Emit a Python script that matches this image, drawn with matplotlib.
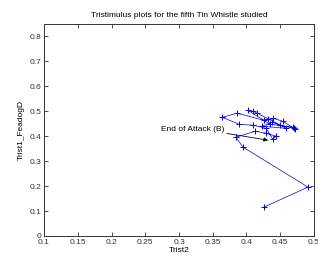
import matplotlib
matplotlib.use("Agg")
from matplotlib import pyplot as plt

plt.rcParams['font.family'] = ['Liberation Sans', 'DejaVu Sans']

# trajectory of the note, in the order it was played
trist2 = [0.426, 0.491, 0.395, 0.384, 0.413, 0.429, 0.444, 0.439, 0.429, 0.410,
          0.389, 0.364, 0.386, 0.426, 0.432, 0.439, 0.454, 0.472, 0.469, 0.435,
          0.402, 0.410, 0.416, 0.459, 0.423, 0.438, 0.450, 0.470]
trist1 = [0.116, 0.196, 0.356, 0.396, 0.420, 0.412, 0.400, 0.388, 0.432, 0.444,
          0.448, 0.476, 0.492, 0.464, 0.468, 0.472, 0.460, 0.428, 0.436, 0.448,
          0.504, 0.500, 0.492, 0.432, 0.440, 0.456, 0.444, 0.432]

attack_xy = (0.432, 0.384)

xticks = [0.1, 0.15, 0.2, 0.25, 0.3, 0.35, 0.4, 0.45, 0.5]
xtick_labels = ["0.1", "0.15", "0.2", "0.25", "0.3", "0.35", "0.4", "0.45", "0.5"]
yticks = [0, 0.1, 0.2, 0.3, 0.4, 0.5, 0.6, 0.7, 0.8]
ytick_labels = ["0", "0.1", "0.2", "0.3", "0.4", "0.5", "0.6", "0.7", "0.8"]

fig = plt.figure(figsize=(3.18, 2.58), dpi=100, facecolor="white")
ax = fig.add_axes([0.1384, 0.0853, 0.849, 0.8217])

ax.plot(trist2, trist1, "-+", color="#0000ff", linewidth=0.5,
        markersize=4.5, markeredgewidth=0.7)

ax.annotate("End of Attack (B)", xy=attack_xy, xytext=(0.367, 0.413),
            ha="right", va="bottom", fontsize=6,
            arrowprops=dict(arrowstyle="-|>", color="k", lw=0.6,
                            mutation_scale=6, relpos=(1, 0),
                            shrinkA=0, shrinkB=0))

ax.set_xlim(0.1, 0.5)
ax.set_ylim(0, 0.85)
ax.set_xticks(xticks)
ax.set_xticklabels(xtick_labels)
ax.set_yticks(yticks)
ax.set_yticklabels(ytick_labels)
ax.tick_params(direction="in", top=True, right=True, length=3, width=0.6,
               labelsize=6, colors="#333333", pad=2)
for s in ax.spines.values():
    s.set_linewidth(0.7)
    s.set_color("#333333")

ax.set_title("Tristimulus plots for the fifth Tin Whistle studied",
             fontsize=6, pad=5)
ax.set_xlabel("Trist2", fontsize=6, labelpad=1)
ax.set_ylabel("Trist1_FeadogD", fontsize=6, labelpad=3)

fig.savefig("out.png", dpi=100, facecolor="white")
